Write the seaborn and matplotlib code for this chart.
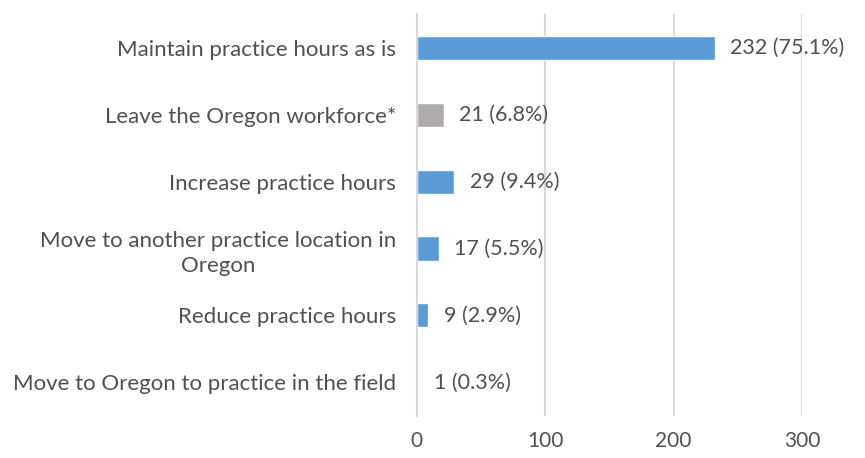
import seaborn as sns
import matplotlib.pyplot as plt
import pandas as pd

categories = [
    "Maintain practice hours as is",
    "Leave the Oregon workforce*",
    "Increase practice hours",
    "Move to another practice location in\nOregon",
    "Reduce practice hours",
    "Move to Oregon to practice in the field",
]
counts = [232, 21, 29, 17, 9, 1]
percents = ["75.1%", "6.8%", "9.4%", "5.5%", "2.9%", "0.3%"]
groups = ["stay", "leave", "stay", "stay", "stay", "stay"]
palette = {"stay": "#5B9BD5", "leave": "#AFABAB"}

df = pd.DataFrame({"category": categories, "count": counts,
                   "pct": percents, "group": groups})

sns.set_style("white")
plt.rcParams["font.family"] = ["Lato", "DejaVu Sans"]

fig = plt.figure(figsize=(8.65, 4.58), dpi=100)
ax = fig.add_axes([0.482, 0.092, 0.445, 0.877])

sns.barplot(data=df, y="category", x="count", hue="group", palette=palette,
            dodge=False, width=0.36, legend=False, ax=ax, orient="h",
            saturation=1)

for i, (c, p) in enumerate(zip(counts, percents)):
    ax.text(c + 12, i, f"{c} ({p})", va="center", ha="left",
            fontsize=15.5, color="#505050", clip_on=False)

ax.set_xlim(0, 300)
ax.set_xticks([0, 100, 200, 300])
ax.set_xlabel("")
ax.set_ylabel("")
ax.grid(axis="x", color="#D9D9D9", linewidth=1.5)
ax.set_axisbelow(True)
for s in ["top", "right", "bottom"]:
    ax.spines[s].set_visible(False)
ax.spines["left"].set_color("#D9D9D9")
ax.spines["left"].set_linewidth(1.5)
ax.tick_params(axis="both", length=0, labelcolor="#505050")
ax.tick_params(axis="x", pad=11, labelsize=15)
ax.tick_params(axis="y", pad=15, labelsize=16)
for lbl in ax.get_yticklabels():
    lbl.set_horizontalalignment("right")
    lbl.set_multialignment("center")
    lbl.set_linespacing(1.35)

fig.savefig("out.png", dpi=100)
